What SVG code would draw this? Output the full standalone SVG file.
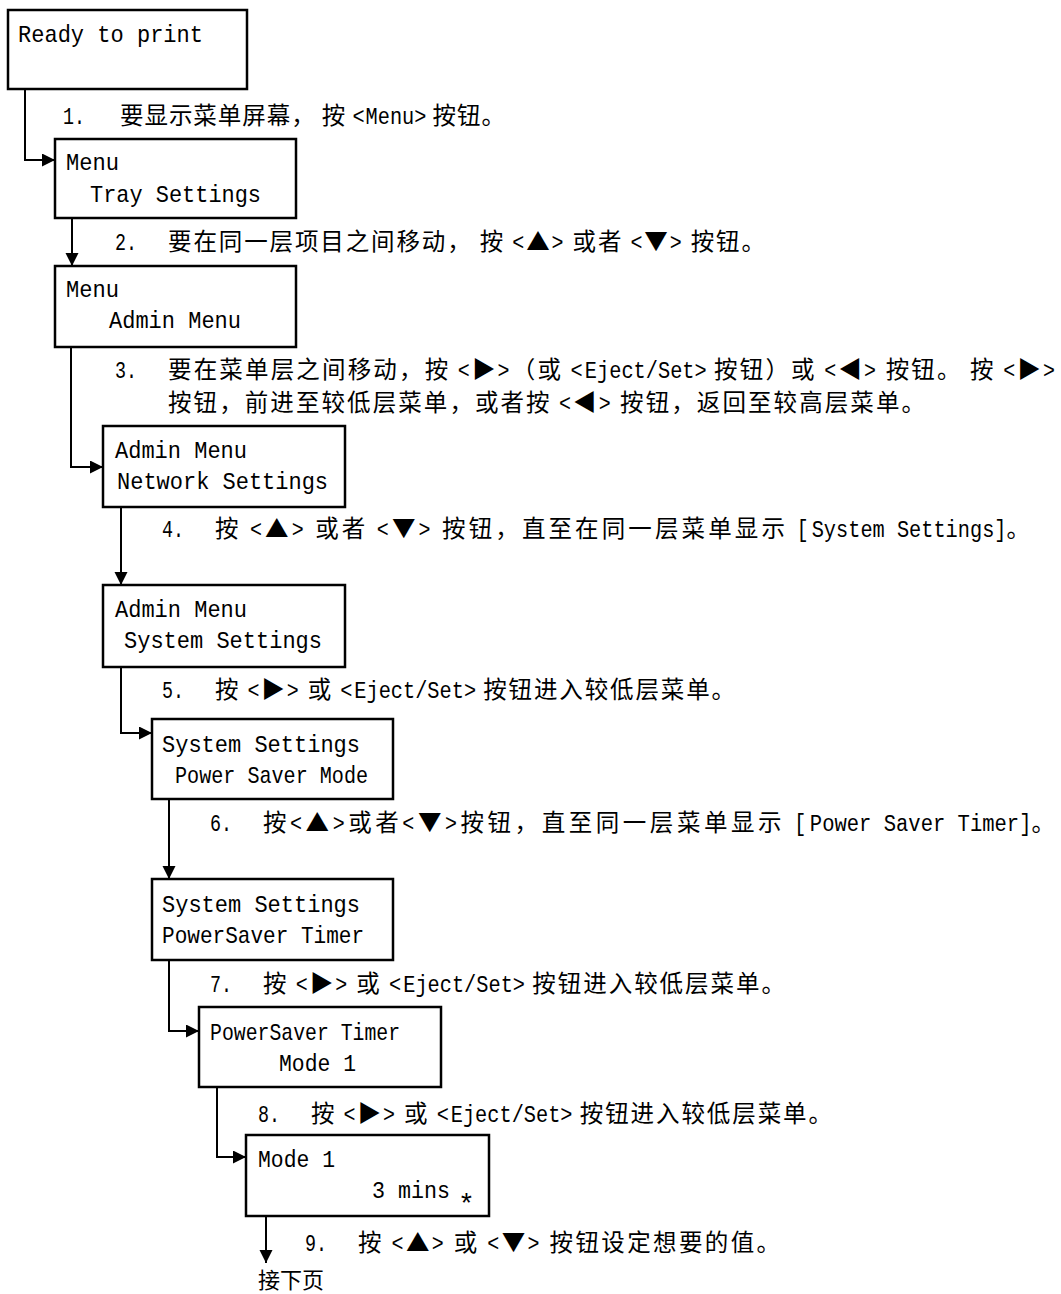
<svg xmlns="http://www.w3.org/2000/svg" width="1061" height="1294" viewBox="0 0 1061 1294">
<style>
.box{fill:#fff;stroke:#000;stroke-width:2.5}
.bt{font-family:"Liberation Mono","DejaVu Sans Mono",monospace;font-size:24px;fill:#000}
.t{font-family:"Noto Sans CJK SC","Noto Sans CJK JP",sans-serif;font-size:23.5px;fill:#000}
.m{font-family:"Liberation Mono","DejaVu Sans Mono",monospace;font-size:23px}
.n{font-family:"Liberation Mono","DejaVu Sans Mono",monospace;font-size:23px;fill:#000}
.c{fill:none;stroke:#000;stroke-width:2}
</style>
<defs>
<marker id="ah" markerUnits="userSpaceOnUse" markerWidth="14" markerHeight="14" refX="13" refY="6.5" orient="auto">
<path d="M0,0 L13,6.5 L0,13 z" fill="#000"/>
</marker>
</defs>
<rect width="1061" height="1294" fill="#fff"/>
<g id="connectors">
<path class="c" d="M25 89 V160 H55" marker-end="url(#ah)"/>
<path class="c" d="M72 218 V266" marker-end="url(#ah)"/>
<path class="c" d="M71 347 V467 H103" marker-end="url(#ah)"/>
<path class="c" d="M121 507 V585" marker-end="url(#ah)"/>
<path class="c" d="M121 667 V733 H152" marker-end="url(#ah)"/>
<path class="c" d="M169 799 V879" marker-end="url(#ah)"/>
<path class="c" d="M169 960 V1031 H199" marker-end="url(#ah)"/>
<path class="c" d="M217 1087 V1157 H246" marker-end="url(#ah)"/>
<path class="c" d="M266 1216 V1263" marker-end="url(#ah)"/>
</g>
<g id="node-ready">
<rect class="box" x="8" y="10" width="239" height="79"/>
<text class="bt" x="18" y="42" textLength="185" lengthAdjust="spacingAndGlyphs">Ready to print</text>
</g>
<g id="node-menu-tray">
<rect class="box" x="55" y="139" width="241" height="79"/>
<text class="bt" x="66" y="170" textLength="53" lengthAdjust="spacingAndGlyphs">Menu</text>
<text class="bt" x="90" y="202" textLength="171" lengthAdjust="spacingAndGlyphs">Tray Settings</text>
</g>
<g id="node-menu-admin">
<rect class="box" x="55" y="266" width="241" height="81"/>
<text class="bt" x="66" y="297" textLength="53" lengthAdjust="spacingAndGlyphs">Menu</text>
<text class="bt" x="109" y="328" textLength="132" lengthAdjust="spacingAndGlyphs">Admin Menu</text>
</g>
<g id="node-admin-network">
<rect class="box" x="103" y="426" width="242" height="81"/>
<text class="bt" x="115" y="458" textLength="132" lengthAdjust="spacingAndGlyphs">Admin Menu</text>
<text class="bt" x="117" y="489" textLength="211" lengthAdjust="spacingAndGlyphs">Network Settings</text>
</g>
<g id="node-admin-system">
<rect class="box" x="103" y="585" width="242" height="82"/>
<text class="bt" x="115" y="617" textLength="132" lengthAdjust="spacingAndGlyphs">Admin Menu</text>
<text class="bt" x="124" y="648" textLength="198" lengthAdjust="spacingAndGlyphs">System Settings</text>
</g>
<g id="node-system-psmode">
<rect class="box" x="152" y="719" width="241" height="80"/>
<text class="bt" x="162" y="752" textLength="198" lengthAdjust="spacingAndGlyphs">System Settings</text>
<text class="bt" x="175" y="783" textLength="193" lengthAdjust="spacingAndGlyphs">Power Saver Mode</text>
</g>
<g id="node-system-pstimer">
<rect class="box" x="152" y="879" width="241" height="81"/>
<text class="bt" x="162" y="912" textLength="198" lengthAdjust="spacingAndGlyphs">System Settings</text>
<text class="bt" x="162" y="943" textLength="202" lengthAdjust="spacingAndGlyphs">PowerSaver Timer</text>
</g>
<g id="node-pstimer-mode1">
<rect class="box" x="199" y="1007" width="242" height="80"/>
<text class="bt" x="210" y="1040" textLength="190" lengthAdjust="spacingAndGlyphs">PowerSaver Timer</text>
<text class="bt" x="279" y="1071" textLength="77" lengthAdjust="spacingAndGlyphs">Mode 1</text>
</g>
<g id="node-mode1-mins">
<rect class="box" x="246" y="1135" width="243" height="81"/>
<text class="bt" x="258" y="1167" textLength="77" lengthAdjust="spacingAndGlyphs">Mode 1</text>
<text class="bt" x="372" y="1198" textLength="78" lengthAdjust="spacingAndGlyphs">3 mins</text>
<text class="bt" x="458" y="1213" style="font-size:28px">*</text>
</g>
<g id="steps">
<text class="n" x="63" y="124" textLength="22" lengthAdjust="spacingAndGlyphs">1.</text>
<text class="t" x="120" y="124" textLength="385">要显示菜单屏幕， 按 <tspan class="m" textLength="73" lengthAdjust="spacingAndGlyphs">&lt;Menu&gt;</tspan> 按钮。</text>
<text class="n" x="115" y="250" textLength="22" lengthAdjust="spacingAndGlyphs">2.</text>
<text class="t" x="168" y="250" textLength="597">要在同一层项目之间移动， 按 <tspan class="m" textLength="12" lengthAdjust="spacingAndGlyphs">&lt;</tspan>▲<tspan class="m" textLength="12" lengthAdjust="spacingAndGlyphs">&gt;</tspan> 或者 <tspan class="m" textLength="12" lengthAdjust="spacingAndGlyphs">&lt;</tspan>▼<tspan class="m" textLength="12" lengthAdjust="spacingAndGlyphs">&gt;</tspan> 按钮。</text>
<text class="n" x="115" y="378" textLength="22" lengthAdjust="spacingAndGlyphs">3.</text>
<text class="t" x="168" y="378" textLength="887">要在菜单层之间移动，按 <tspan class="m" textLength="12" lengthAdjust="spacingAndGlyphs">&lt;</tspan>▶<tspan class="m" textLength="12" lengthAdjust="spacingAndGlyphs">&gt;</tspan>（或 <tspan class="m" textLength="134" lengthAdjust="spacingAndGlyphs">&lt;Eject/Set&gt;</tspan> 按钮）或 <tspan class="m" textLength="12" lengthAdjust="spacingAndGlyphs">&lt;</tspan>◀<tspan class="m" textLength="12" lengthAdjust="spacingAndGlyphs">&gt;</tspan> 按钮。 按 <tspan class="m" textLength="12" lengthAdjust="spacingAndGlyphs">&lt;</tspan>▶<tspan class="m" textLength="12" lengthAdjust="spacingAndGlyphs">&gt;</tspan></text>
<text class="t" x="168" y="411" textLength="757">按钮，前进至较低层菜单，或者按 <tspan class="m" textLength="12" lengthAdjust="spacingAndGlyphs">&lt;</tspan>◀<tspan class="m" textLength="12" lengthAdjust="spacingAndGlyphs">&gt;</tspan> 按钮，返回至较高层菜单。</text>
<text class="n" x="162" y="537" textLength="22" lengthAdjust="spacingAndGlyphs">4.</text>
<text class="t" x="215" y="537" textLength="815">按 <tspan class="m" textLength="12" lengthAdjust="spacingAndGlyphs">&lt;</tspan>▲<tspan class="m" textLength="12" lengthAdjust="spacingAndGlyphs">&gt;</tspan> 或者 <tspan class="m" textLength="12" lengthAdjust="spacingAndGlyphs">&lt;</tspan>▼<tspan class="m" textLength="12" lengthAdjust="spacingAndGlyphs">&gt;</tspan> 按钮，直至在同一层菜单显示 <tspan class="m" textLength="207" lengthAdjust="spacingAndGlyphs">[System Settings]</tspan>。</text>
<text class="n" x="162" y="698" textLength="22" lengthAdjust="spacingAndGlyphs">5.</text>
<text class="t" x="215" y="698" textLength="520">按 <tspan class="m" textLength="12" lengthAdjust="spacingAndGlyphs">&lt;</tspan>▶<tspan class="m" textLength="12" lengthAdjust="spacingAndGlyphs">&gt;</tspan> 或 <tspan class="m" textLength="134" lengthAdjust="spacingAndGlyphs">&lt;Eject/Set&gt;</tspan> 按钮进入较低层菜单。</text>
<text class="n" x="210" y="831" textLength="22" lengthAdjust="spacingAndGlyphs">6.</text>
<text class="t" x="263" y="831" textLength="792">按<tspan class="m" textLength="12" lengthAdjust="spacingAndGlyphs">&lt;</tspan>▲<tspan class="m" textLength="12" lengthAdjust="spacingAndGlyphs">&gt;</tspan>或者<tspan class="m" textLength="12" lengthAdjust="spacingAndGlyphs">&lt;</tspan>▼<tspan class="m" textLength="12" lengthAdjust="spacingAndGlyphs">&gt;</tspan>按钮，直至同一层菜单显示 <tspan class="m" textLength="234" lengthAdjust="spacingAndGlyphs">[Power Saver Timer]</tspan>。</text>
<text class="n" x="210" y="992" textLength="22" lengthAdjust="spacingAndGlyphs">7.</text>
<text class="t" x="263" y="992" textLength="522">按 <tspan class="m" textLength="12" lengthAdjust="spacingAndGlyphs">&lt;</tspan>▶<tspan class="m" textLength="12" lengthAdjust="spacingAndGlyphs">&gt;</tspan> 或 <tspan class="m" textLength="134" lengthAdjust="spacingAndGlyphs">&lt;Eject/Set&gt;</tspan> 按钮进入较低层菜单。</text>
<text class="n" x="258" y="1122" textLength="22" lengthAdjust="spacingAndGlyphs">8.</text>
<text class="t" x="311" y="1122" textLength="521">按 <tspan class="m" textLength="12" lengthAdjust="spacingAndGlyphs">&lt;</tspan>▶<tspan class="m" textLength="12" lengthAdjust="spacingAndGlyphs">&gt;</tspan> 或 <tspan class="m" textLength="134" lengthAdjust="spacingAndGlyphs">&lt;Eject/Set&gt;</tspan> 按钮进入较低层菜单。</text>
<text class="n" x="305" y="1251" textLength="22" lengthAdjust="spacingAndGlyphs">9.</text>
<text class="t" x="358" y="1251" textLength="422">按 <tspan class="m" textLength="12" lengthAdjust="spacingAndGlyphs">&lt;</tspan>▲<tspan class="m" textLength="12" lengthAdjust="spacingAndGlyphs">&gt;</tspan> 或 <tspan class="m" textLength="12" lengthAdjust="spacingAndGlyphs">&lt;</tspan>▼<tspan class="m" textLength="12" lengthAdjust="spacingAndGlyphs">&gt;</tspan> 按钮设定想要的值。</text>
<text class="t" x="258" y="1288" style="font-size:22px">接下页</text>
</g>
</svg>
